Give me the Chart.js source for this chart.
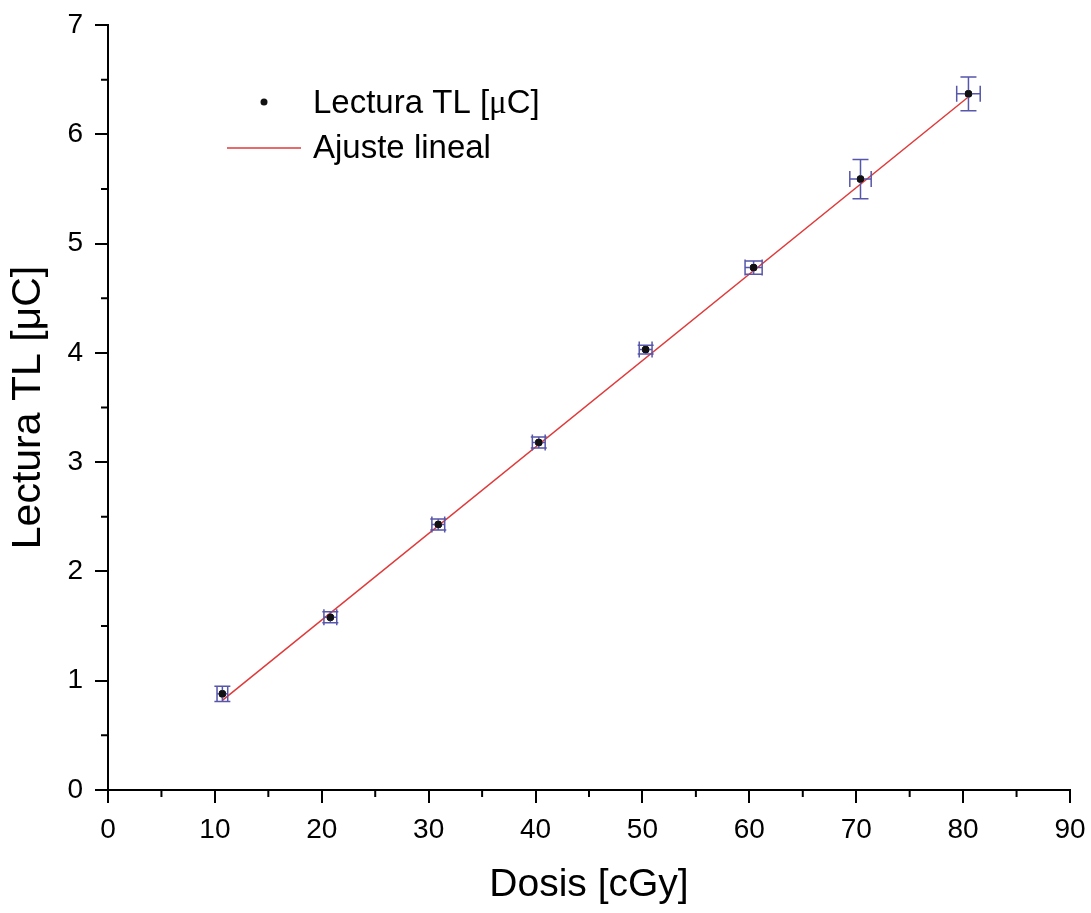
<!DOCTYPE html>
<html>
<head>
<meta charset="utf-8">
<script src="https://cdn.jsdelivr.net/npm/chart.js@4"></script>
<style>
  html, body { margin: 0; padding: 0; background: #fff; }
  #wrap { width: 1091px; height: 913px; }
</style>
</head>
<body>
<div id="wrap"><canvas id="doseChart" width="1091" height="913"></canvas></div>
<script>
const dosis = [10.7, 20.8, 30.9, 40.3, 50.3, 60.4, 70.4, 80.5];
const lectura = [0.88, 1.58, 2.43, 3.18, 4.03, 4.78, 5.59, 6.37];
const errDosis = [0.5, 0.6, 0.6, 0.6, 0.6, 0.8, 1.0, 1.1];
const errLectura = [0.07, 0.05, 0.05, 0.05, 0.04, 0.06, 0.18, 0.155];

// end points of the linear fit
const fitX = [10.7, 80.6];
const fitY = [0.82, 6.35];

const xTicks = [0, 10, 20, 30, 40, 50, 60, 70, 80, 90];
const yTicks = [0, 1, 2, 3, 4, 5, 6, 7];

const FONT = "'Liberation Sans', Arial, sans-serif";
const SERIF = "'Liberation Serif', 'Times New Roman', serif";

// error bars, minor ticks and legend
const extras = {
  id: 'extras',
  afterDatasetsDraw(chart) {
    const ctx = chart.ctx;
    const xs = chart.scales.x, ys = chart.scales.y;
    ctx.save();
    ctx.strokeStyle = '#5656aa';
    ctx.lineWidth = 1.5;
    const cap = 8;
    for (let i = 0; i < dosis.length; i++) {
      const px = xs.getPixelForValue(dosis[i]);
      const py = ys.getPixelForValue(lectura[i]);
      const top = ys.getPixelForValue(lectura[i] + errLectura[i]);
      const bot = ys.getPixelForValue(lectura[i] - errLectura[i]);
      const l = xs.getPixelForValue(dosis[i] - errDosis[i]);
      const r = xs.getPixelForValue(dosis[i] + errDosis[i]);
      ctx.beginPath();
      ctx.moveTo(px, top); ctx.lineTo(px, bot);
      ctx.moveTo(px - cap, top); ctx.lineTo(px + cap, top);
      ctx.moveTo(px - cap, bot); ctx.lineTo(px + cap, bot);
      ctx.moveTo(l, py); ctx.lineTo(r, py);
      ctx.moveTo(l, py - cap); ctx.lineTo(l, py + cap);
      ctx.moveTo(r, py - cap); ctx.lineTo(r, py + cap);
      ctx.stroke();
    }
    // redraw points over the bars
    ctx.fillStyle = '#111';
    for (let i = 0; i < dosis.length; i++) {
      ctx.beginPath();
      ctx.arc(xs.getPixelForValue(dosis[i]), ys.getPixelForValue(lectura[i]), 3.5, 0, Math.PI * 2);
      ctx.fill();
    }

    // minor ticks
    ctx.strokeStyle = '#000';
    ctx.lineWidth = 2;
    ctx.beginPath();
    for (let v = 5; v < 90; v += 10) {
      const px = xs.getPixelForValue(v);
      ctx.moveTo(px, ys.bottom); ctx.lineTo(px, ys.bottom + 7);
    }
    for (let v = 0.5; v < 7; v += 1) {
      const py = ys.getPixelForValue(v);
      ctx.moveTo(xs.left, py); ctx.lineTo(xs.left - 7, py);
    }
    ctx.stroke();

    // legend
    ctx.fillStyle = '#111';
    ctx.beginPath();
    ctx.arc(264, 102, 3.5, 0, Math.PI * 2);
    ctx.fill();
    ctx.strokeStyle = '#e03a3a';
    ctx.lineWidth = 1.5;
    ctx.beginPath();
    ctx.moveTo(227, 148); ctx.lineTo(301, 148);
    ctx.stroke();
    ctx.fillStyle = '#000';
    ctx.textBaseline = 'alphabetic';
    let x = 313;
    const parts = [['Lectura TL [', FONT], ['μ', SERIF], ['C]', FONT]];
    for (const [t, f] of parts) {
      ctx.font = '33px ' + f;
      ctx.fillText(t, x, 113);
      x += ctx.measureText(t).width;
    }
    ctx.font = '33px ' + FONT;
    ctx.fillText('Ajuste lineal', 313, 158);
    ctx.restore();
  }
};

new Chart(document.getElementById('doseChart'), {
  type: 'scatter',
  data: {
    datasets: [
      {
        label: 'Ajuste lineal',
        type: 'line',
        data: fitX.map((x, i) => ({ x: x, y: fitY[i] })),
        borderColor: '#e03a3a',
        borderWidth: 1.5,
        pointRadius: 0,
        fill: false
      },
      {
        label: 'Lectura TL [μC]',
        data: dosis.map((x, i) => ({ x: x, y: lectura[i] })),
        backgroundColor: '#111',
        borderColor: '#111',
        pointRadius: 3.5
      }
    ]
  },
  options: {
    responsive: false,
    animation: false,
    layout: { padding: { top: 25, right: 21, left: 0, bottom: 0 } },
    plugins: {
      legend: { display: false },
      tooltip: { enabled: false }
    },
    scales: {
      x: {
        type: 'linear',
        min: 0,
        max: 90,
        afterBuildTicks: s => { s.ticks = xTicks.map(v => ({ value: v })); },
        afterFit: s => { s.height = 123; s.paddingLeft = 0; s.paddingRight = 0; },
        border: { color: '#000', width: 2 },
        grid: { drawOnChartArea: false, color: '#000', lineWidth: 2, tickLength: 13 },
        ticks: { color: '#000', font: { family: FONT, size: 28 }, padding: 10, maxRotation: 0 },
        title: { display: true, text: 'Dosis [cGy]', color: '#000', font: { family: FONT, size: 39 }, padding: { top: 4, bottom: 4 } }
      },
      y: {
        type: 'linear',
        min: 0,
        max: 7,
        afterBuildTicks: s => { s.ticks = yTicks.map(v => ({ value: v })); },
        afterFit: s => { s.width = 108; s.paddingTop = 0; s.paddingBottom = 0; },
        border: { color: '#000', width: 2 },
        grid: { drawOnChartArea: false, color: '#000', lineWidth: 2, tickLength: 13 },
        ticks: { color: '#000', font: { family: FONT, size: 28 }, padding: 12 },
        title: { display: true, text: 'Lectura TL [μC]', color: '#000', font: { family: FONT, size: 41 }, padding: { top: 4, bottom: 4 } }
      }
    }
  },
  plugins: [extras]
});
</script>
</body>
</html>
